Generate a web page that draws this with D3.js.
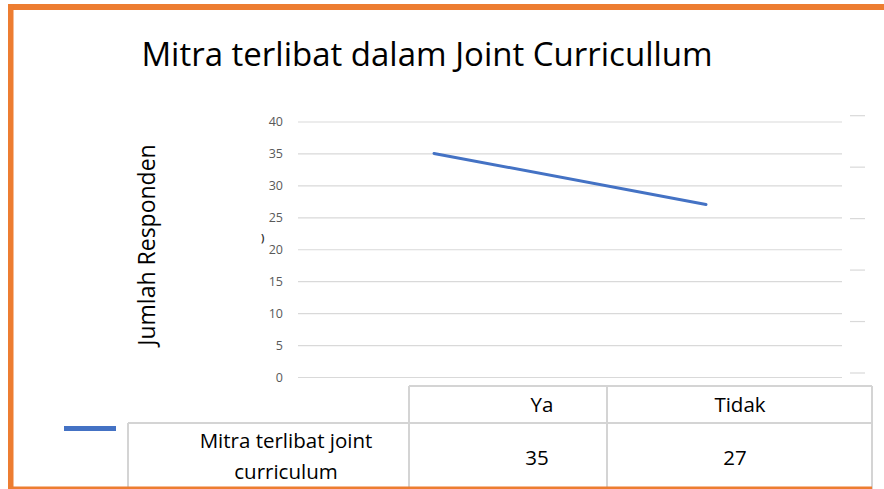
<!DOCTYPE html>
<html>
<head>
<meta charset="utf-8">
<script src="https://cdn.jsdelivr.net/npm/d3@7"></script>
<style>
  body { margin: 0; background: #fff; }
  svg { display: block; font-family: "Open Sans", "Noto Sans", sans-serif; }
</style>
</head>
<body>
<svg width="884" height="489"></svg>
<script>
// chart data
var categories = ["Ya", "Tidak"];
var seriesName = ["Mitra terlibat joint", "curriculum"];
var values = [35, 27];
var yTicks = [0, 5, 10, 15, 20, 25, 30, 35, 40];
var rightTicks = [0, 1, 2, 3, 4, 5]; // stray marks on the right edge

var svg = d3.select("svg");

// plot area
var plot = {left: 298, right: 842, top: 121.5, bottom: 377};

var x = d3.scaleBand()
	.domain(categories)
	.range([plot.left, plot.right]);

var y = d3.scaleLinear()
	.domain([0, 40])
	.range([plot.bottom, plot.top]);

var yRight = d3.scaleLinear()
	.domain([0, 5])
	.range([373, 115.7]);

// orange frame (top, left, bottom)
svg.append("rect").attr("x", 8).attr("y", 4).attr("width", 876).attr("height", 6).attr("fill", "#ED7D31");
svg.append("rect").attr("x", 8).attr("y", 4).attr("width", 5.5).attr("height", 485).attr("fill", "#ED7D31");

// title
svg.append("text")
	.attr("x", 427)
	.attr("y", 66)
	.attr("text-anchor", "middle")
	.attr("font-size", 33)
	.attr("fill", "#000")
	.text("Mitra terlibat dalam Joint Curricullum");

// gridlines
var yAxis = d3.axisLeft(y)
	.tickValues(yTicks)
	.tickSize(-(plot.right - plot.left))
	.tickPadding(15);

var gy = svg.append("g")
	.attr("transform", "translate(" + plot.left + ",0)")
	.call(yAxis);

gy.select(".domain").remove();
gy.selectAll(".tick line").attr("stroke", "#d9d9d9").attr("stroke-width", 1.2);
gy.selectAll(".tick text")
	.attr("fill", "#595959")
	.attr("font-size", 12.5)
	.attr("font-family", "\"Open Sans\", sans-serif");

// stray right-side marks
svg.append("g").selectAll("line")
	.data(rightTicks)
	.enter()
	.append("line")
	.attr("x1", 850)
	.attr("x2", 865)
	.attr("y1", function (d) { return yRight(d); })
	.attr("y2", function (d) { return yRight(d); })
	.attr("stroke", "#d9d9d9")
	.attr("stroke-width", 1.2);

// small stray glyph near axis
svg.append("text")
	.attr("x", 261)
	.attr("y", 242)
	.attr("font-size", 10)
	.attr("font-weight", "bold")
	.attr("fill", "#333")
	.text(")");

// y axis title
svg.append("text")
	.attr("transform", "translate(155,245) rotate(-90)")
	.attr("text-anchor", "middle")
	.attr("font-size", 23)
	.attr("fill", "#000")
	.text("Jumlah Responden");

// series line
var line = d3.line()
	.x(function (d, i) { return x(categories[i]) + x.bandwidth() / 2; })
	.y(function (d) { return y(d); });

svg.append("path")
	.datum(values)
	.attr("d", line)
	.attr("fill", "none")
	.attr("stroke", "#4472C4")
	.attr("stroke-width", 3)
	.attr("stroke-linecap", "round");

// data table
var table = svg.append("g");
var gridColor = "#d4d4d4";
var colEdges = [409, 607, 872];
var colText = [542, 740]; // text centres in the table columns
var rowTop = 386, rowMid = 423, rowBottom = 489, labelLeft = 128;

function tline(x1, y1, x2, y2) {
	table.append("line")
		.attr("x1", x1).attr("y1", y1).attr("x2", x2).attr("y2", y2)
		.attr("stroke", gridColor).attr("stroke-width", 2);
}

tline(colEdges[0], rowTop, colEdges[2], rowTop);
tline(labelLeft, rowMid, colEdges[2], rowMid);
colEdges.forEach(function (e) { tline(e, rowTop, e, rowBottom); });
tline(labelLeft, rowMid, labelLeft, rowBottom);

table.selectAll("text.cat")
	.data(categories)
	.enter()
	.append("text")
	.attr("class", "cat")
	.attr("x", function (d, i) { return colText[i]; })
	.attr("y", 412)
	.attr("text-anchor", "middle")
	.attr("font-size", 20.5)
	.text(function (d) { return d; });

table.selectAll("text.val")
	.data(values)
	.enter()
	.append("text")
	.attr("class", "val")
	.attr("x", function (d, i) { return colText[i] - 5; })
	.attr("y", 465)
	.attr("text-anchor", "middle")
	.attr("font-size", 20.5)
	.text(function (d) { return d; });

table.selectAll("text.name")
	.data(seriesName)
	.enter()
	.append("text")
	.attr("class", "name")
	.attr("x", 286)
	.attr("y", function (d, i) { return 448 + i * 31; })
	.attr("text-anchor", "middle")
	.attr("font-size", 20.5)
	.text(function (d) { return d; });

// legend key
svg.append("line")
	.attr("x1", 64).attr("x2", 116)
	.attr("y1", 428.5).attr("y2", 428.5)
	.attr("stroke", "#4472C4")
	.attr("stroke-width", 5);

// bottom orange edge
svg.append("rect").attr("x", 8).attr("y", 486.5).attr("width", 864).attr("height", 3).attr("fill", "#ED7D31");
</script>
</body>
</html>
